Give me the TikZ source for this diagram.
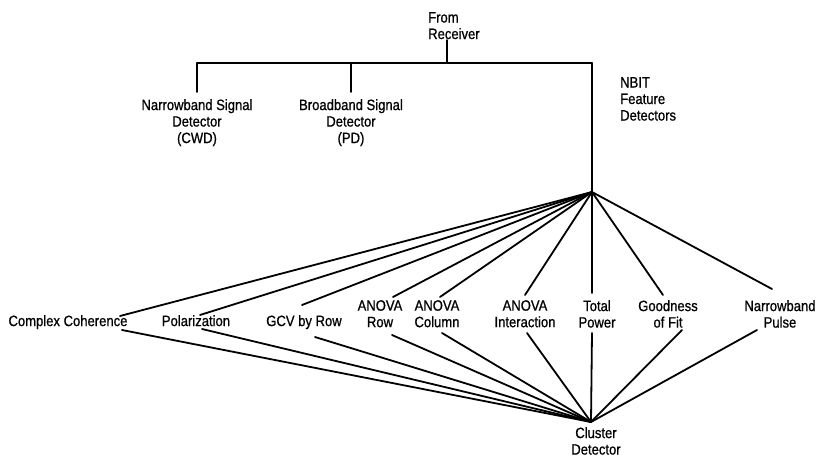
\documentclass[tikz,border=0pt]{standalone}
\usepackage{fontspec}
\setmainfont[FakeStretch=0.87,FakeBold=0.8]{Liberation Sans}
\begin{document}
\begin{tikzpicture}[x=1pt,y=-1pt,
  lbl/.style={inner sep=0pt, align=center, font=\fontsize{15}{16.5}\selectfont},
  wire/.style={line width=1.8pt, line cap=round}]
\useasboundingbox (0,0) rectangle (820,458);
% top tree
\node[lbl, anchor=north west, align=left] (recv) at (428,12) {From\\Receiver};
\node[lbl, anchor=north] (nsd) at (197,99) {Narrowband Signal\\Detector\\(CWD)};
\node[lbl, anchor=north] (bsd) at (351,99) {Broadband Signal\\Detector\\(PD)};
\node[lbl, anchor=north west, align=left] (nbit) at (620,77) {NBIT\\Feature\\Detectors};
\coordinate (recvtail) at (447,40);
\coordinate (bus) at (447,63);
\coordinate (busL) at (197,63);
\coordinate (busM) at (351,63);
\coordinate (busR) at (592,63);
\coordinate (nsdtop) at (197,92);
\coordinate (bsdtop) at (351,92);
\coordinate (hub) at (592,192);
\draw[wire] (recvtail) -- (bus);
\draw[wire] (busL) -- (busR);
\draw[wire] (busL) -- (nsdtop);
\draw[wire] (busM) -- (bsdtop);
\draw[wire] (busR) -- (hub);
% feature labels
\node[lbl, anchor=north] (cc) at (68,315) {Complex Coherence};
\node[lbl, anchor=north] (pol) at (196,315) {Polarization};
\node[lbl, anchor=north] (gcv) at (304,315) {GCV by Row};
\node[lbl, anchor=north] (arow) at (380,300) {ANOVA\\Row};
\node[lbl, anchor=north] (acol) at (437,300) {ANOVA\\Column};
\node[lbl, anchor=north] (aint) at (525,300) {ANOVA\\Interaction};
\node[lbl, anchor=north] (tp) at (597,300) {Total\\Power};
\node[lbl, anchor=north] (gof) at (668,300) {Goodness\\of Fit};
\node[lbl, anchor=north] (nbp) at (780,300) {Narrowband\\Pulse};
\node[lbl, anchor=north] (clus) at (596,427) {Cluster\\Detector};
\coordinate (chub) at (591,422);
\foreach \n/\ux/\uy/\lx/\ly in {cc/120/316/122/330, pol/200/315/202/329, gcv/302/305/315/337,
  arow/393/297/392/335, acol/440/297/442/333, aint/525/295/527/333,
  tp/592/293/592/333, gof/663/295/682/330, nbp/772/289/757/330}{
  \coordinate (\n-u) at (\ux,\uy);
  \coordinate (\n-l) at (\lx,\ly);
  \draw[wire] (hub) -- (\n-u);
  \draw[wire] (\n-l) -- (chub);
}
\end{tikzpicture}
\end{document}
